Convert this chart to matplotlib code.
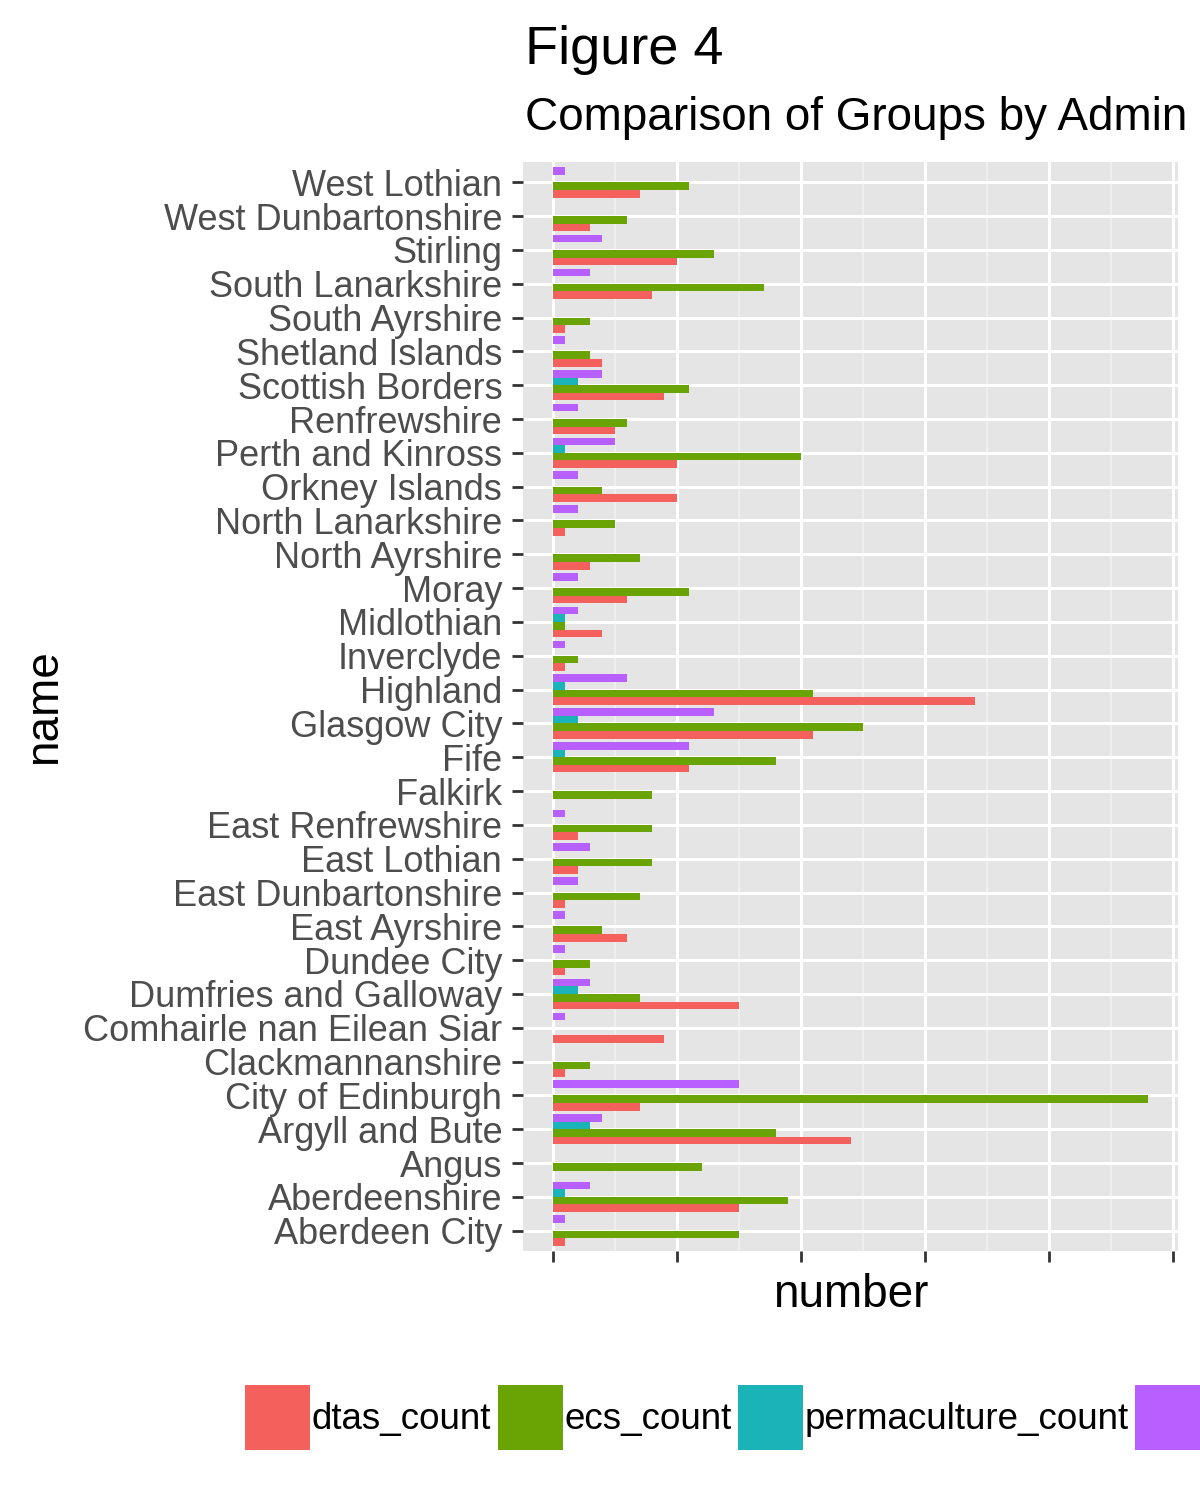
import matplotlib
matplotlib.use("Agg")
import matplotlib.pyplot as plt
import numpy as np

plt.rcParams['font.family'] = ['Liberation Sans', 'DejaVu Sans']

# categories, bottom to top
names = ["Aberdeen City", "Aberdeenshire", "Angus", "Argyll and Bute", "City of Edinburgh",
         "Clackmannanshire", "Comhairle nan Eilean Siar", "Dumfries and Galloway", "Dundee City",
         "East Ayrshire", "East Dunbartonshire", "East Lothian", "East Renfrewshire", "Falkirk",
         "Fife", "Glasgow City", "Highland", "Inverclyde", "Midlothian", "Moray", "North Ayrshire",
         "North Lanarkshire", "Orkney Islands", "Perth and Kinross", "Renfrewshire",
         "Scottish Borders", "Shetland Islands", "South Ayrshire", "South Lanarkshire", "Stirling",
         "West Dunbartonshire", "West Lothian"]

dtas_count = [1, 15, 0, 24, 7, 1, 9, 15, 1, 6, 1, 2, 2, 0, 11, 21, 34, 1, 4, 6, 3, 1, 10, 10, 5,
              9, 4, 1, 8, 10, 3, 7]
ecs_count = [15, 19, 12, 18, 48, 3, 0, 7, 3, 4, 7, 8, 8, 8, 18, 25, 21, 2, 1, 11, 7, 5, 4, 20, 6,
             11, 3, 3, 17, 13, 6, 11]
permaculture_count = [0, 1, 0, 3, 0, 0, 0, 2, 0, 0, 0, 0, 0, 0, 1, 2, 1, 0, 1, 0, 0, 0, 0, 1, 0,
                      2, 0, 0, 0, 0, 0, 0]
transition_count = [1, 3, 0, 4, 15, 0, 1, 3, 1, 1, 2, 3, 1, 0, 11, 13, 6, 1, 2, 2, 0, 2, 2, 5, 2,
                    4, 1, 0, 3, 4, 0, 1]

series = ["dtas_count", "ecs_count", "permaculture_count", "transition_count"]
colors = ["#F4615C", "#6AA304", "#1AB3B8", "#B760FF"]

fig = plt.figure(figsize=(12, 15), dpi=100)
ax = fig.add_axes([523 / 1200, 1 - 1251 / 1500, 655 / 1200, (1251 - 162) / 1500])
ax.set_facecolor("#E5E5E5")

y = np.arange(len(names))
w = 0.225
offsets = [-1.5 * w, -0.5 * w, 0.5 * w, 1.5 * w]
for vals, off, c, lab in zip([dtas_count, ecs_count, permaculture_count, transition_count],
                             offsets, colors, series):
    ax.barh(y + off, vals, height=w, color=c, label=lab, zorder=3, linewidth=0)

ax.set_xlim(-2.4, 50.4)
ax.set_ylim(-0.6, len(names) - 0.4)
ax.set_xticks(np.arange(0, 51, 10))
ax.set_xticks(np.arange(5, 50, 10), minor=True)
ax.set_xticklabels([])
ax.set_yticks(y)
ax.set_yticklabels(names, fontsize=26, color="#4D4D4D")

ax.grid(which="major", color="white", linewidth=2.2, zorder=1)
ax.grid(which="minor", axis="x", color="#F2F2F2", linewidth=1.1, zorder=1)
ax.set_axisbelow(True)
for s in ax.spines.values():
    s.set_visible(False)
ax.tick_params(axis="both", which="major", length=8, width=2, color="#333333", pad=7)
ax.tick_params(axis="x", which="minor", length=0)

ax.set_xlabel("number", fontsize=33, labelpad=1)
ax.set_ylabel("name", fontsize=33, labelpad=12)

fig.text(525 / 1200, 1 - 64 / 1500, "Figure 4", fontsize=39, ha="left", va="baseline")
fig.text(525 / 1200, 1 - 130 / 1500, "Comparison of Groups by Admin", fontsize=33,
         ha="left", va="baseline")

# legend runs past the right edge, as in the original
fig.legend(loc="upper left", bbox_to_anchor=(245 / 1200, 1 - 1385 / 1500), ncol=4,
           frameon=False, fontsize=26.5, handlelength=1.77, handleheight=2.35,
           handletextpad=0.05, columnspacing=0.17, borderpad=0, borderaxespad=0)

fig.savefig("out.png", dpi=100)
